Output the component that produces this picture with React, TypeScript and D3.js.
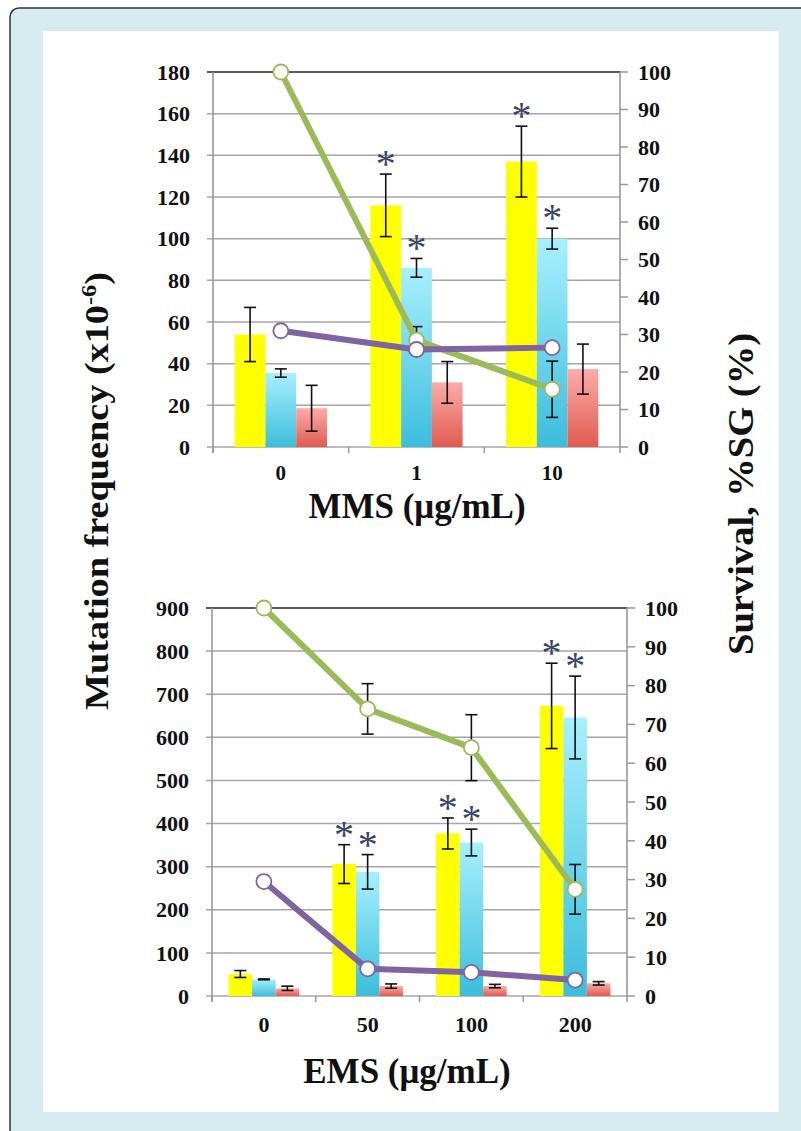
import React from "react";
import * as d3 from "d3";

// ---------- DATA ----------
const mmsCategories = ["0", "1", "10"];
const mmsYellow = [54, 116, 137];
const mmsYellowErr = [13, 15, 17];
const mmsBlue = [35.5, 86, 100];
const mmsBlueErr = [2, 4.5, 5];
const mmsRed = [18.6, 31, 37.4];
const mmsRedErr = [11, 10, 12];
const mmsSurvival = [100, 28.5, 15.4];
const mmsSurvivalErr = [0, 3.6, 7.5];
const mmsSG = [31, 26, 26.5];
const mmsYellowStar = [false, true, true];
const mmsBlueStar = [false, true, true];
const mmsLeftTicks = [0, 20, 40, 60, 80, 100, 120, 140, 160, 180];

const emsCategories = ["0", "50", "100", "200"];
const emsYellow = [51, 306, 377, 673];
const emsYellowErr = [8, 45, 36, 99];
const emsBlue = [38.6, 288, 356, 646];
const emsBlueErr = [1, 40, 31, 96];
const emsRed = [17.8, 23, 23, 29.4];
const emsRedErr = [5, 5, 4, 4];
const emsSurvival = [100, 74, 64, 27.5];
const emsSurvivalErr = [0, 6.5, 8.5, 6.4];
const emsSG = [29.5, 7, 6.1, 4.1];
const emsYellowStar = [false, true, true, true];
const emsBlueStar = [false, true, true, true];
const emsLeftTicks = [0, 100, 200, 300, 400, 500, 600, 700, 800, 900];

const rightTicks = [0, 10, 20, 30, 40, 50, 60, 70, 80, 90, 100];

const FONT = "'Liberation Serif', 'Times New Roman', serif";
const GREEN = "#9bbb59";
const PURPLE = "#8064a2";

type PanelProps = {
  id: string;
  categories: string[];
  yellow: number[];
  yellowErr: number[];
  blue: number[];
  blueErr: number[];
  red: number[];
  redErr: number[];
  survival: number[];
  survivalErr: number[];
  sg: number[];
  yellowStar: boolean[];
  blueStar: boolean[];
  leftTicks: number[];
  x0: number;
  x1: number;
  yTop: number;
  yBottom: number;
  title: string;
  titleX: number;
  titleY: number;
  xLabelFs: number;
  xLabelDy: number;
};

function Panel(p: PanelProps) {
  const leftMax = p.leftTicks[p.leftTicks.length - 1];
  const x = d3.scaleBand<string>().domain(p.categories).range([p.x0, p.x1]).paddingInner(0).paddingOuter(0);
  const inner = d3
    .scaleBand<string>()
    .domain(["y", "b", "r"])
    .range([0, x.bandwidth()])
    .paddingInner(0)
    .paddingOuter(0.706);
  const yL = d3.scaleLinear().domain([0, leftMax]).range([p.yBottom, p.yTop]);
  const yR = d3.scaleLinear().domain([0, 100]).range([p.yBottom, p.yTop]);
  const cx = (c: string) => (x(c) as number) + x.bandwidth() / 2;
  const line = d3
    .line<[number, number]>()
    .x((d) => d[0])
    .y((d) => d[1]);

  const series = [
    { key: "y", vals: p.yellow, err: p.yellowErr, fill: "#ffff00", star: p.yellowStar },
    { key: "b", vals: p.blue, err: p.blueErr, fill: `url(#${p.id}-blue)`, star: p.blueStar },
    { key: "r", vals: p.red, err: p.redErr, fill: `url(#${p.id}-red)`, star: null as boolean[] | null },
  ];
  const cap = 6;
  const ErrBar = ({ xc, lo, hi }: { xc: number; lo: number; hi: number }) => (
    <g stroke="#111" strokeWidth={1.6}>
      <line x1={xc} x2={xc} y1={lo} y2={hi} />
      <line x1={xc - cap} x2={xc + cap} y1={lo} y2={lo} />
      <line x1={xc - cap} x2={xc + cap} y1={hi} y2={hi} />
    </g>
  );

  return (
    <g>
      <defs>
        <linearGradient id={`${p.id}-blue`} x1="0" y1="0" x2="0" y2="1">
          <stop offset="0" stopColor="#a8f0fd" />
          <stop offset="1" stopColor="#3cbddc" />
        </linearGradient>
        <linearGradient id={`${p.id}-red`} x1="0" y1="0" x2="0" y2="1">
          <stop offset="0" stopColor="#fdaca8" />
          <stop offset="1" stopColor="#df5b50" />
        </linearGradient>
      </defs>
      {/* gridlines */}
      {p.leftTicks.map((t, i) => (
        <line
          key={"g" + t}
          x1={p.x0 - 6}
          x2={p.x1}
          y1={yL(t)}
          y2={yL(t)}
          stroke={i === p.leftTicks.length - 1 ? "#222" : "#a6a6a6"}
          strokeWidth={1.5}
        />
      ))}
      {/* left axis */}
      <line x1={p.x0} x2={p.x0} y1={p.yTop} y2={p.yBottom + 6} stroke="#999" strokeWidth={1.6} />
      {/* right axis */}
      <line x1={p.x1} x2={p.x1} y1={p.yTop} y2={p.yBottom + 6} stroke="#999" strokeWidth={1.6} />
      {rightTicks.map((t) => (
        <line key={"rt" + t} x1={p.x1} x2={p.x1 + 8} y1={yR(t)} y2={yR(t)} stroke="#999" strokeWidth={1.5} />
      ))}
      {/* x ticks at category boundaries */}
      {p.categories.map((c) => (
        <line key={"xt" + c} x1={x(c)} x2={x(c)} y1={p.yBottom} y2={p.yBottom + 6} stroke="#999" strokeWidth={1.5} />
      ))}
      {/* bars */}
      {series.map((s) =>
        p.categories.map((c, i) => (
          <rect
            key={s.key + c}
            x={(x(c) as number) + (inner(s.key) as number)}
            width={inner.bandwidth()}
            y={yL(s.vals[i])}
            height={p.yBottom - yL(s.vals[i])}
            fill={s.fill}
          />
        ))
      )}
      {/* bar error bars */}
      {series.map((s) =>
        p.categories.map((c, i) => (
          <ErrBar
            key={"e" + s.key + c}
            xc={(x(c) as number) + (inner(s.key) as number) + inner.bandwidth() / 2}
            lo={yL(s.vals[i] - s.err[i])}
            hi={yL(s.vals[i] + s.err[i])}
          />
        ))
      )}
      {/* survival error bars */}
      {p.categories.map((c, i) =>
        p.survivalErr[i] > 0 ? (
          <ErrBar
            key={"se" + c}
            xc={cx(c)}
            lo={yR(p.survival[i] - p.survivalErr[i])}
            hi={yR(p.survival[i] + p.survivalErr[i])}
          />
        ) : null
      )}
      {/* lines */}
      {[
        { vals: p.survival, color: GREEN },
        { vals: p.sg, color: PURPLE },
      ].map((s, si) => (
        <g key={"l" + si}>
          <path
            d={line(p.categories.map((c, i) => [cx(c), yR(s.vals[i])] as [number, number])) || ""}
            fill="none"
            stroke={s.color}
            strokeWidth={6}
            strokeLinejoin="round"
          />
          {p.categories.map((c, i) => (
            <circle key={c} cx={cx(c)} cy={yR(s.vals[i])} r={7.5} fill="#fff" stroke={s.color} strokeWidth={1.8} />
          ))}
        </g>
      ))}
      {/* asterisks */}
      {series.map((s) =>
        s.star
          ? p.categories.map((c, i) =>
              s.star![i] ? (
                <text
                  key={"st" + s.key + c}
                  x={(x(c) as number) + (inner(s.key) as number) + inner.bandwidth() / 2}
                  y={yL(s.vals[i] + s.err[i]) + 3}
                  textAnchor="middle"
                  fontFamily={FONT}
                  fontSize={40}
                  fill="#3a4466"
                >
                  *
                </text>
              ) : null
            )
          : null
      )}
      {/* left tick labels */}
      {p.leftTicks.map((t) => (
        <text
          key={"lt" + t}
          x={p.x0 - 23}
          y={yL(t)}
          dy="0.35em"
          textAnchor="end"
          fontFamily={FONT}
          fontWeight="bold"
          fontSize={22}
          fill="#111"
        >
          {t}
        </text>
      ))}
      {/* right tick labels */}
      {rightTicks.map((t) => (
        <text
          key={"rl" + t}
          x={p.x1 + 18}
          y={yR(t)}
          dy="0.35em"
          textAnchor="start"
          fontFamily={FONT}
          fontWeight="bold"
          fontSize={22}
          fill="#111"
        >
          {t}
        </text>
      ))}
      {/* x labels */}
      {p.categories.map((c) => (
        <text
          key={"xl" + c}
          x={cx(c)}
          y={p.yBottom + p.xLabelDy}
          textAnchor="middle"
          fontFamily={FONT}
          fontWeight="bold"
          fontSize={p.xLabelFs}
          fill="#111"
        >
          {c}
        </text>
      ))}
      <text
        x={p.titleX}
        y={p.titleY}
        textAnchor="middle"
        fontFamily={FONT}
        fontWeight="bold"
        fontSize={35}
        fill="#111"
      >
        {p.title}
      </text>
    </g>
  );
}

export default function App() {
  return (
    <svg
      width={801}
      height={1131}
      style={{ position: "absolute", left: 0, top: 0, display: "block" }}
      xmlns="http://www.w3.org/2000/svg"
    >
      <rect x={0} y={0} width={801} height={1131} fill="#fff" />
      <rect x={10} y={8} width={820} height={1160} rx={9} fill="#d7ecf1" stroke="#333" strokeWidth={1.5} />
      <rect x={43} y={31} width={736} height={1081} fill="#fff" />
      <Panel
        id="mms"
        categories={mmsCategories}
        yellow={mmsYellow}
        yellowErr={mmsYellowErr}
        blue={mmsBlue}
        blueErr={mmsBlueErr}
        red={mmsRed}
        redErr={mmsRedErr}
        survival={mmsSurvival}
        survivalErr={mmsSurvivalErr}
        sg={mmsSG}
        yellowStar={mmsYellowStar}
        blueStar={mmsBlueStar}
        leftTicks={mmsLeftTicks}
        x0={213}
        x1={620}
        yTop={72}
        yBottom={447}
        title="MMS (μg/mL)"
        titleX={417}
        titleY={518}
        xLabelFs={21}
        xLabelDy={33}
      />
      <Panel
        id="ems"
        categories={emsCategories}
        yellow={emsYellow}
        yellowErr={emsYellowErr}
        blue={emsBlue}
        blueErr={emsBlueErr}
        red={emsRed}
        redErr={emsRedErr}
        survival={emsSurvival}
        survivalErr={emsSurvivalErr}
        sg={emsSG}
        yellowStar={emsYellowStar}
        blueStar={emsBlueStar}
        leftTicks={emsLeftTicks}
        x0={212}
        x1={627}
        yTop={608}
        yBottom={996}
        title="EMS (μg/mL)"
        titleX={407}
        titleY={1083}
        xLabelFs={22}
        xLabelDy={36}
      />
      <text
        transform="translate(108,491) rotate(-90)"
        textAnchor="middle"
        fontFamily={FONT}
        fontWeight="bold"
        fontSize={33}
        fill="#111"
        textLength={438}
        lengthAdjust="spacingAndGlyphs"
      >
        Mutation frequency (x10
        <tspan dy={-12} fontSize={21}>
          -6
        </tspan>
        <tspan dy={12}>)</tspan>
      </text>
      <text
        transform="translate(753,494) rotate(-90)"
        textAnchor="middle"
        fontFamily={FONT}
        fontWeight="bold"
        fontSize={36}
        fill="#111"
        textLength={322}
        lengthAdjust="spacingAndGlyphs"
      >
        Survival, %SG (%)
      </text>
    </svg>
  );
}
